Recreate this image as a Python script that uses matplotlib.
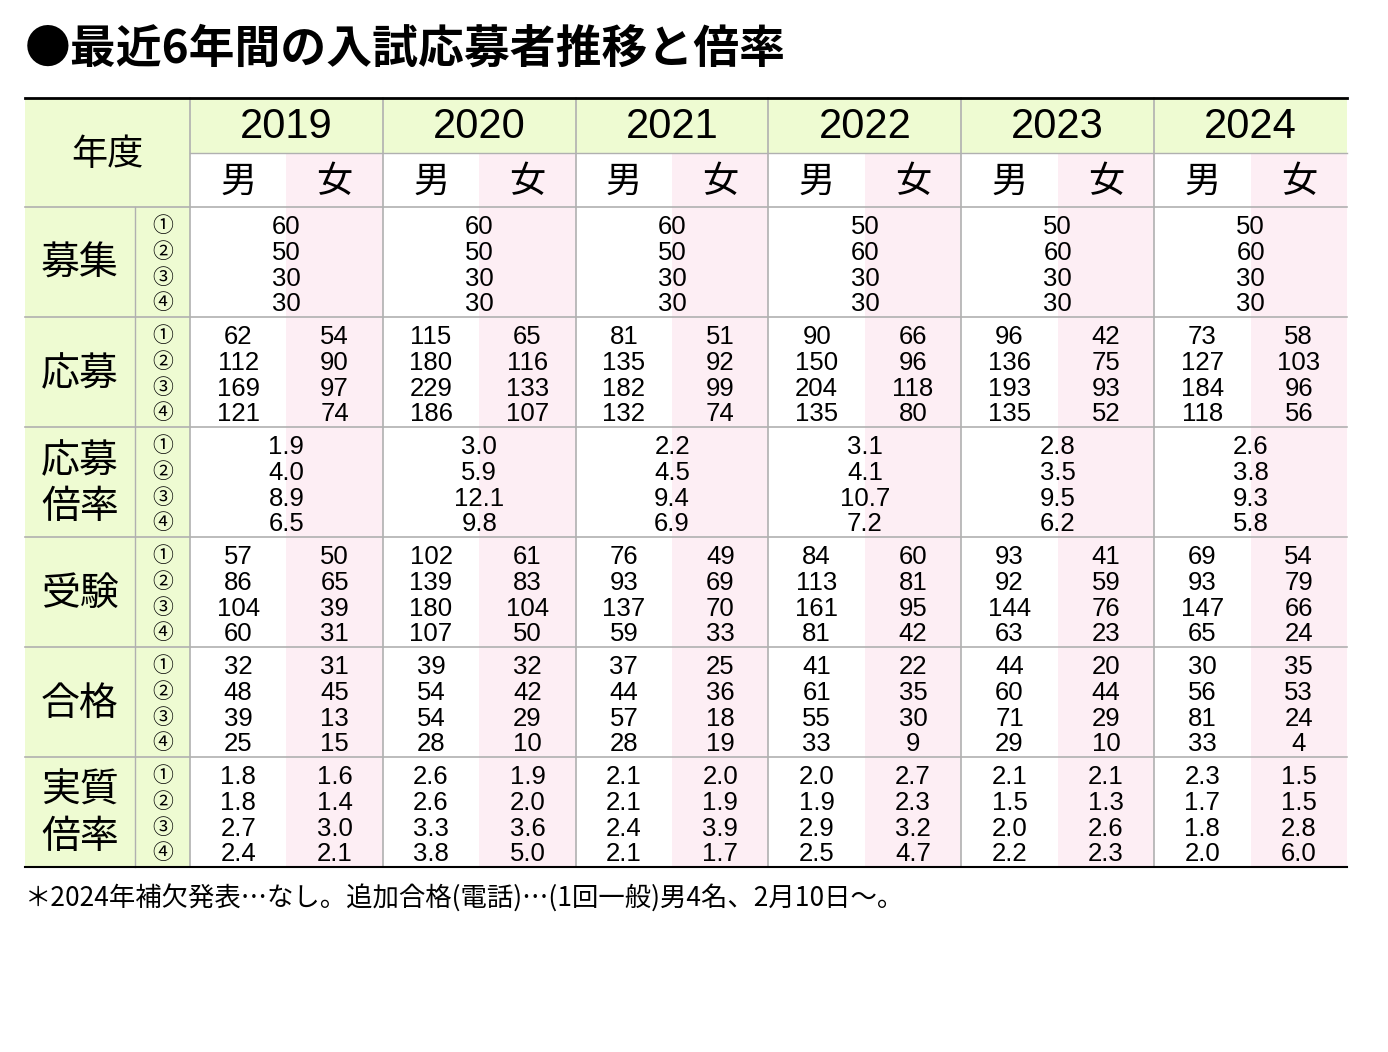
import matplotlib
matplotlib.use('Agg')
import matplotlib.pyplot as plt
from matplotlib.patches import Rectangle

years = ['2019', '2020', '2021', '2022', '2023', '2024']
sections = ['募集', '応募', '応募\n倍率', '受験', '合格', '実質\n倍率']
circled = ['①', '②', '③', '④']

# combined rows (one column per year)
boshu = [[60, 50, 30, 30], [60, 50, 30, 30], [60, 50, 30, 30],
         [50, 60, 30, 30], [50, 60, 30, 30], [50, 60, 30, 30]]
oubo_rate = [[1.9, 4.0, 8.9, 6.5], [3.0, 5.9, 12.1, 9.8], [2.2, 4.5, 9.4, 6.9],
             [3.1, 4.1, 10.7, 7.2], [2.8, 3.5, 9.5, 6.2], [2.6, 3.8, 9.3, 5.8]]
# male / female rows
oubo_m = [[62, 112, 169, 121], [115, 180, 229, 186], [81, 135, 182, 132],
          [90, 150, 204, 135], [96, 136, 193, 135], [73, 127, 184, 118]]
oubo_f = [[54, 90, 97, 74], [65, 116, 133, 107], [51, 92, 99, 74],
          [66, 96, 118, 80], [42, 75, 93, 52], [58, 103, 96, 56]]
juken_m = [[57, 86, 104, 60], [102, 139, 180, 107], [76, 93, 137, 59],
           [84, 113, 161, 81], [93, 92, 144, 63], [69, 93, 147, 65]]
juken_f = [[50, 65, 39, 31], [61, 83, 104, 50], [49, 69, 70, 33],
           [60, 81, 95, 42], [41, 59, 76, 23], [54, 79, 66, 24]]
gokaku_m = [[32, 48, 39, 25], [39, 54, 54, 28], [37, 44, 57, 28],
            [41, 61, 55, 33], [44, 60, 71, 29], [30, 56, 81, 33]]
gokaku_f = [[31, 45, 13, 15], [32, 42, 29, 10], [25, 36, 18, 19],
            [22, 35, 30, 9], [20, 44, 29, 10], [35, 53, 24, 4]]
jisshitsu_m = [[1.8, 1.8, 2.7, 2.4], [2.6, 2.6, 3.3, 3.8], [2.1, 2.1, 2.4, 2.1],
               [2.0, 1.9, 2.9, 2.5], [2.1, 1.5, 2.0, 2.2], [2.3, 1.7, 1.8, 2.0]]
jisshitsu_f = [[1.6, 1.4, 3.0, 2.1], [1.9, 2.0, 3.6, 5.0], [2.0, 1.9, 3.9, 1.7],
               [2.7, 2.3, 3.2, 4.7], [2.1, 1.3, 2.6, 2.3], [1.5, 1.5, 2.8, 6.0]]

section_data = [
    ('c', boshu, None, '{}'),
    ('mf', oubo_m, oubo_f, '{}'),
    ('c', oubo_rate, None, '{:.1f}'),
    ('mf', juken_m, juken_f, '{}'),
    ('mf', gokaku_m, gokaku_f, '{}'),
    ('mf', jisshitsu_m, jisshitsu_f, '{:.1f}'),
]

title = '●最近6年間の入試応募者推移と倍率'
note = '＊2024年補欠発表…なし。追加合格(電話)…(1回一般)男4名、2月10日〜。'

JP = ['Noto Sans CJK JP']
NUM = ['Liberation Sans Narrow', 'Liberation Sans', 'Noto Sans CJK JP']

W, H = 1388, 1052
fig = plt.figure(figsize=(W / 100, H / 100), dpi=100)
ax = fig.add_axes([0, 0, 1, 1])
ax.set_xlim(0, W)
ax.set_ylim(H, 0)
ax.axis('off')

left, lab_w, num_x, right = 25, 165, 135, 1347
top, h1, h2 = 98, 55, 54
col_w = (right - left - lab_w) / len(years)
sec_h = 110
body_top = top + h1 + h2
bottom = body_top + sec_h * len(sections)
green = '#eefbd2'
pink = '#fdeef4'
grid = '#b0b0b0'

ax.add_patch(Rectangle((left, top), lab_w, bottom - top, color=green, lw=0))
for i in range(len(years)):
    x0 = left + lab_w + i * col_w
    ax.add_patch(Rectangle((x0, top), col_w, h1, color=green, lw=0))
    ax.add_patch(Rectangle((x0 + col_w / 2, top + h1), col_w / 2, bottom - top - h1, color=pink, lw=0))

# grid lines
ax.plot([left + lab_w, right], [top + h1] * 2, color=grid, lw=1)
for s in range(len(sections)):
    y = body_top + s * sec_h
    ax.plot([left, right], [y, y], color=grid, lw=1.2)
ax.plot([left + lab_w, left + lab_w], [top, bottom], color=grid, lw=1.2)
ax.plot([num_x, num_x], [body_top, bottom], color=grid, lw=1)
for i in range(1, len(years)):
    x = left + lab_w + i * col_w
    ax.plot([x, x], [top, bottom], color=grid, lw=1.2)
ax.plot([left, right], [top, top], color='black', lw=2)
ax.plot([left, right], [bottom, bottom], color='black', lw=1.5)

ax.text(left, 50, title, fontsize=33, fontweight='bold', family=JP, va='center', ha='left')
ax.text(left + lab_w / 2, top + (h1 + h2) / 2 + 2, '年度', fontsize=26, family=JP, ha='center', va='center')

for i, yr in enumerate(years):
    x0 = left + lab_w + i * col_w
    ax.text(x0 + col_w / 2, top + h1 / 2 + 2, yr, fontsize=30, family=NUM, ha='center', va='center')
    ax.text(x0 + col_w / 4, top + h1 + h2 / 2 + 2, '男', fontsize=26, family=JP, ha='center', va='center')
    ax.text(x0 + col_w * 3 / 4, top + h1 + h2 / 2 + 2, '女', fontsize=26, family=JP, ha='center', va='center')

row_off = [19, 45, 71, 96]
for s, (name, (kind, a, b, fmt)) in enumerate(zip(sections, section_data)):
    y0 = body_top + s * sec_h
    ax.text((left + num_x) / 2, y0 + sec_h / 2 + 2, name, fontsize=28, family=JP,
            ha='center', va='center', linespacing=1.2)
    for r, c in enumerate(circled):
        ax.text((num_x + left + lab_w) / 2, y0 + row_off[r], c, fontsize=15, family=JP, ha='center', va='center')
    for i in range(len(years)):
        x0 = left + lab_w + i * col_w
        for r in range(4):
            y = y0 + row_off[r] + 1
            if kind == 'c':
                ax.text(x0 + col_w / 2, y, fmt.format(a[i][r]), fontsize=18.5, family=NUM, ha='center', va='center')
            else:
                ax.text(x0 + col_w / 4, y, fmt.format(a[i][r]), fontsize=18.5, family=NUM, ha='center', va='center')
                ax.text(x0 + col_w * 3 / 4, y, fmt.format(b[i][r]), fontsize=18.5, family=NUM, ha='center', va='center')

ax.text(left, bottom + 32, note, fontsize=19, family=JP, ha='left', va='center')

fig.savefig('out.png', dpi=100, facecolor='white')
